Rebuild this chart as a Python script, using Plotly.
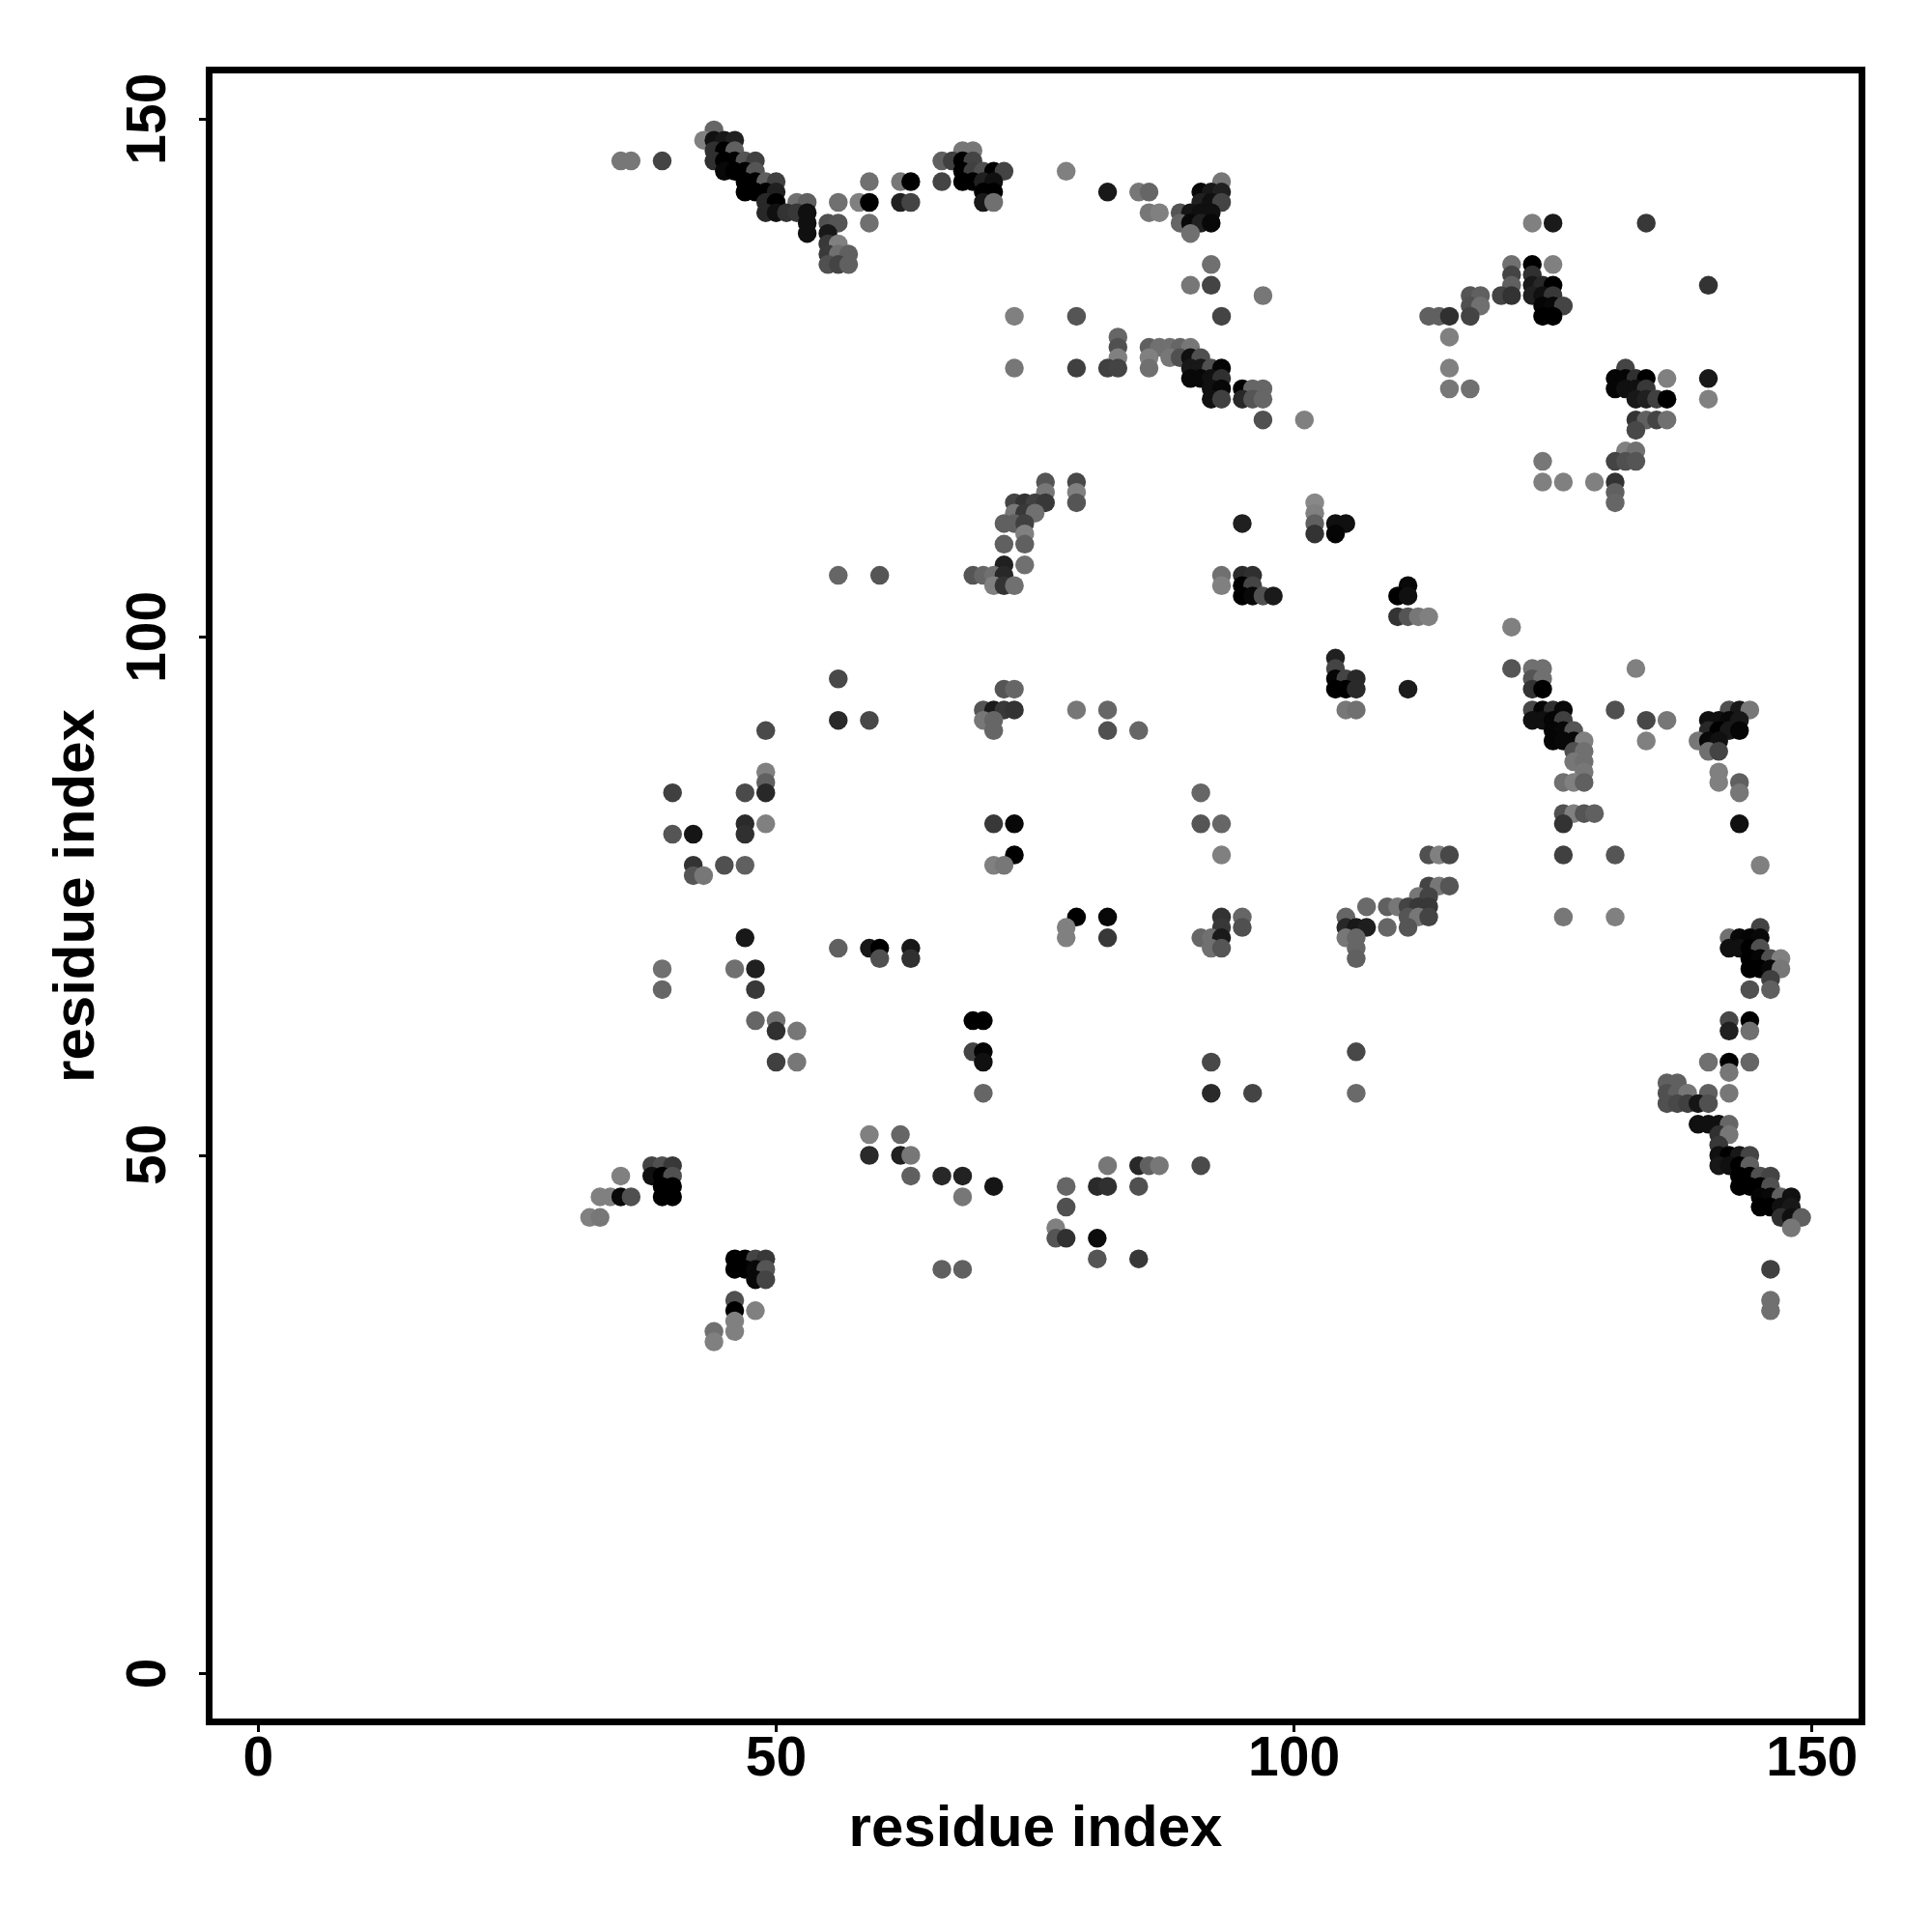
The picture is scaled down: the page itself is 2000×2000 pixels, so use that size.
import plotly.graph_objects as go

tick_values = [0, 50, 100, 150]
axis_label = "residue index"

# one row per y residue: x residues and grey level (hex) of each contact
row_y = [149,148,147,146,145,144,143,142,141,140,139,138,137,136,135,134,133,132,131,129,128,127,126,125,124,123,121,120,118,117,115,114,113,112,111,110,109,107,106,105,104,102,101,98,97,96,95,93,92,91,90,89,88,87,86,85,83,82,81,79,78,77,76,75,74,73,72,71,70,69,68,67,66,63,62,60,59,58,57,56,55,53,52,51,50,49,48,47,46,45,44,43,42,40,39,38,36,35,34,33,32]
row_x = [
[44],
[43,44,45,46],
[44,45,46,68,69],
[35,36,39,44,45,46,47,48,66,67,68,69],
[45,46,47,48,68,69,70,71,72,78],
[47,48,49,50,59,62,63,66,68,69,70,71,93],
[47,48,49,50,70,71,82,85,86,91,92,93],
[49,50,52,53,56,58,59,62,63,70,71,91,92,93],
[49,50,51,52,53,86,87,89,90,91,92],
[53,55,56,59,89,90,91,92,123,125,134],
[53,55,90],
[55,56],
[55,56,57],
[55,56,57,92,121,123,125],
[121,123],
[90,92,121,123,124,125,140],
[97,117,118,120,121,123,124,125],
[117,118,124,125,126],
[73,79,93,113,114,115,117,124,125],
[83,115],
[83,86,87,88,89,90],
[83,86,88,89,90,91],
[73,79,82,83,86,90,91,92,93,115,132],
[90,91,92,93,131,132,133,134,136,140],
[92,93,95,96,97,115,117,131,132,133,134],
[92,93,95,96,97,133,134,135,136,140],
[97,101,133,134,135,136],
[133],
[132,133],
[124,131,132,133],
[76,79,124,126,129,131],
[76,79,131],
[73,74,75,76,79,102,131],
[73,74,75,102],
[72,73,74,95,102,104,105],
[74,102,104],
[72,74],
[72,74],
[56,60,69,70,71,72,93,95,96],
[71,72,73,93,95,96,111],
[95,96,97,98,110,111],
[110,111,112,113],
[121],
[104],
[104,121,123,124,133],
[56,104,105,106,123,124],
[72,73,104,105,106,111,123,124],
[70,71,72,73,79,82,105,106,123,124,125,126,131,142,143,144],
[56,59,70,71,123,124,125,126,134,136,140,141,142,143],
[49,71,82,85,125,126,127,140,141,142,143],
[125,126,127,128,134,139,140,141],
[127,128,140,141],
[127,128],
[49,128,141],
[49,126,127,128,141,143],
[40,47,49,91,143],
[126,127,128,129],
[47,49,71,73,91,93,126,143],
[40,42,47],
[73,93,113,114,115,126,131],
[42,45,47,71,72,145],
[42,43],
[113,114,115],
[112,113],
[107,109,110,111,112,113],
[79,82,93,95,105,111,112,113,126,131],
[78,93,95,105,106,107,109,111,145],
[47,78,82,91,92,93,105,106,142,143,144,145],
[56,59,60,63,92,93,106,142,143,144,145],
[60,63,106,144,145,146,147],
[39,46,48,144,145,146,147],
[146],
[39,48,144,146],
[48,50,69,70,142,144],
[50,52,142,144],
[69,70,106],
[50,52,70,92,140,142,144],
[142],
[136,137],
[70,92,96,106,136,137,138,140,142],
[136,137,138,139,140],
[139,140,141,142],
[59,62,141,142],
[141],
[59,62,63,141,142,143,144],
[38,39,40,82,85,86,87,91,141,142,143,144],
[35,38,39,40,63,66,68,143,144,145,146],
[39,40,71,78,81,82,85,143,144,145,146],
[33,34,35,36,39,40,68,145,146,147,148],
[78,145,146,147,148],
[32,33,147,148,149],
[77,148],
[77,78,81],
[46,47,48,49,81,85],
[46,47,48,49,66,68,146],
[48,49],
[46,146],
[46,48,146],
[46],
[44,46],
[44],
]
row_shade = [
[0x66],
[0x80,0x10,0x18,0x20],
[0x30,0x00,0x60,0x77,0x77],
[0x77,0x77,0x44,0x30,0x00,0x00,0x55,0x40,0x60,0x40,0x00,0x44],
[0x08,0x00,0x00,0x55,0x00,0x40,0x50,0x00,0x44,0x80],
[0x00,0x00,0x60,0x40,0x70,0x77,0x00,0x44,0x00,0x00,0x20,0x10,0x77],
[0x00,0x00,0x00,0x20,0x00,0x00,0x18,0x77,0x66,0x08,0x18,0x20],
[0x28,0x00,0x70,0x60,0x70,0x80,0x00,0x20,0x44,0x18,0x70,0x20,0x10,0x44],
[0x28,0x10,0x33,0x38,0x10,0x77,0x80,0x55,0x15,0x10,0x10],
[0x10,0x50,0x55,0x70,0x66,0x08,0x20,0x08,0x80,0x1a,0x38],
[0x10,0x18,0x70],
[0x38,0x80],
[0x3a,0x70,0x60],
[0x50,0x44,0x60,0x70,0x70,0x00,0x80],
[0x44,0x30],
[0x77,0x44,0x60,0x18,0x28,0x00,0x33],
[0x77,0x55,0x60,0x44,0x33,0x20,0x10,0x38],
[0x50,0x70,0x05,0x08,0x44],
[0x80,0x55,0x44,0x60,0x60,0x30,0x44,0x00,0x00],
[0x66,0x80],
[0x50,0x60,0x70,0x70,0x66,0x77],
[0x80,0x80,0x77,0x50,0x10,0x50],
[0x77,0x40,0x40,0x44,0x70,0x18,0x18,0x50,0x05,0x80,0x44],
[0x08,0x08,0x10,0x30,0x05,0x05,0x30,0x00,0x80,0x18],
[0x10,0x08,0x00,0x66,0x66,0x77,0x70,0x05,0x10,0x10,0x38],
[0x10,0x40,0x28,0x55,0x66,0x18,0x20,0x40,0x00,0x80],
[0x50,0x80,0x33,0x60,0x44,0x70],
[0x48],
[0x80,0x70],
[0x77,0x44,0x50,0x55],
[0x55,0x48,0x80,0x80,0x80,0x33],
[0x77,0x80,0x60],
[0x44,0x33,0x40,0x38,0x55,0x88,0x66],
[0x77,0x38,0x70,0x80],
[0x60,0x60,0x40,0x20,0x60,0x10,0x10],
[0x80,0x33,0x05],
[0x60,0x60],
[0x20,0x70],
[0x66,0x55,0x55,0x66,0x70,0x28,0x70,0x2a,0x2f],
[0x80,0x33,0x70,0x80,0x00,0x44,0x08],
[0x00,0x08,0x50,0x1a,0x00,0x10],
[0x33,0x55,0x77,0x80],
[0x80],
[0x20],
[0x44,0x55,0x70,0x70,0x80],
[0x48,0x05,0x44,0x28,0x55,0x70],
[0x55,0x66,0x00,0x00,0x2a,0x1c,0x33,0x00],
[0x55,0x1a,0x38,0x33,0x77,0x66,0x77,0x70,0x48,0x05,0x30,0x08,0x50,0x50,0x18,0x77],
[0x2a,0x48,0x77,0x66,0x10,0x10,0x05,0x40,0x48,0x77,0x10,0x10,0x08,0x18],
[0x4a,0x66,0x50,0x66,0x05,0x08,0x55,0x28,0x00,0x18,0x05],
[0x05,0x08,0x08,0x80,0x80,0x77,0x08,0x10],
[0x50,0x70,0x70,0x44],
[0x77,0x70],
[0x80,0x77,0x80],
[0x60,0x70,0x80,0x60,0x80,0x60],
[0x40,0x4a,0x28,0x66,0x77],
[0x50,0x80,0x55,0x60],
[0x2a,0x80,0x38,0x08,0x55,0x66,0x33,0x10],
[0x55,0x15,0x30],
[0x00,0x80,0x50,0x80,0x48,0x40,0x55],
[0x33,0x50,0x60,0x80,0x77,0x80],
[0x55,0x77],
[0x44,0x77,0x55],
[0x77,0x44],
[0x6a,0x60,0x77,0x44,0x38,0x38],
[0x00,0x08,0x33,0x66,0x66,0x55,0x77,0x44,0x77,0x80],
[0x80,0x38,0x50,0x28,0x18,0x1e,0x66,0x55,0x44],
[0x18,0x80,0x38,0x66,0x70,0x1a,0x77,0x66,0x70,0x08,0x05,0x08],
[0x60,0x18,0x00,0x18,0x70,0x55,0x66,0x10,0x10,0x00,0x50],
[0x50,0x30,0x60,0x00,0x05,0x50,0x80],
[0x70,0x70,0x20,0x00,0x00,0x08,0x77],
[0x40],
[0x66,0x38,0x50,0x60],
[0x66,0x70,0x00,0x00,0x48,0x00],
[0x30,0x77,0x20,0x70],
[0x44,0x05,0x48],
[0x40,0x77,0x10,0x48,0x70,0x00,0x66],
[0x77],
[0x60,0x60],
[0x66,0x2a,0x44,0x6a,0x50,0x60,0x77,0x60,0x77],
[0x50,0x48,0x40,0x15,0x50],
[0x10,0x10,0x10,0x66],
[0x80,0x66,0x30,0x77],
[0x38],
[0x2a,0x20,0x77,0x10,0x00,0x18,0x44],
[0x44,0x50,0x38,0x77,0x28,0x60,0x77,0x4a,0x18,0x10,0x00,0x60],
[0x80,0x10,0x00,0x50,0x60,0x28,0x22,0x00,0x00,0x50,0x44],
[0x00,0x00,0x15,0x66,0x2a,0x30,0x50,0x00,0x00,0x00,0x50],
[0x80,0x80,0x08,0x50,0x00,0x00,0x77,0x05,0x08,0x60,0x10],
[0x50,0x00,0x00,0x10,0x18],
[0x80,0x77,0x30,0x10,0x60],
[0x80,0x77],
[0x55,0x30,0x0c],
[0x00,0x00,0x44,0x38,0x55,0x38],
[0x00,0x00,0x08,0x55,0x60,0x60,0x40],
[0x08,0x44],
[0x50,0x70],
[0x00,0x80,0x70],
[0x80],
[0x70,0x80],
[0x80],
]

xs, ys, colors = [], [], []
for y, xrow, shades in zip(row_y, row_x, row_shade):
    for x, s in zip(xrow, shades):
        xs.append(x)
        ys.append(y)
        colors.append(f"rgb({s},{s},{s})")

fig = go.Figure(go.Scatter(
    x=xs, y=ys, mode="markers",
    marker=dict(size=19.5, color=colors, line=dict(width=0)),
    hoverinfo="skip", showlegend=False,
))

FONT = "Liberation Sans"
tick_font = dict(family=FONT, size=57, color="black", weight=700)
def axis(rng, **kw):
    return dict(
        range=rng, tickmode="array", tickvals=tick_values,
        ticktext=[str(v) for v in tick_values],
        ticks="outside", ticklen=7, tickwidth=3, tickcolor="black",
        showline=True, linecolor="black", linewidth=6.5, mirror=True,
        showgrid=False, zeroline=False, automargin=False,
        tickfont=tick_font,
        title=dict(text=axis_label, font=dict(family=FONT, size=60, color="black", weight=700)),
        **kw,
    )

fig.update_layout(
    width=2000, height=2000,
    margin=dict(l=212.25, r=84.25, t=68.25, b=229.25, autoexpand=False),
    paper_bgcolor="white", plot_bgcolor="white",
    xaxis=axis([-4.41, 154.5], ticklabelstandoff=-23),
    yaxis=axis([-4.37, 154.45], showticklabels=False),
    annotations=[
        dict(text=str(v), xref="paper", yref="y", x=0, y=v, xshift=-69,
             xanchor="center", yanchor="middle", textangle=-90,
             showarrow=False, font=tick_font)
        for v in tick_values
    ],
)
fig.update_xaxes(title_standoff=22)
fig.update_yaxes(title_standoff=92)
fig.write_html("out.html")
